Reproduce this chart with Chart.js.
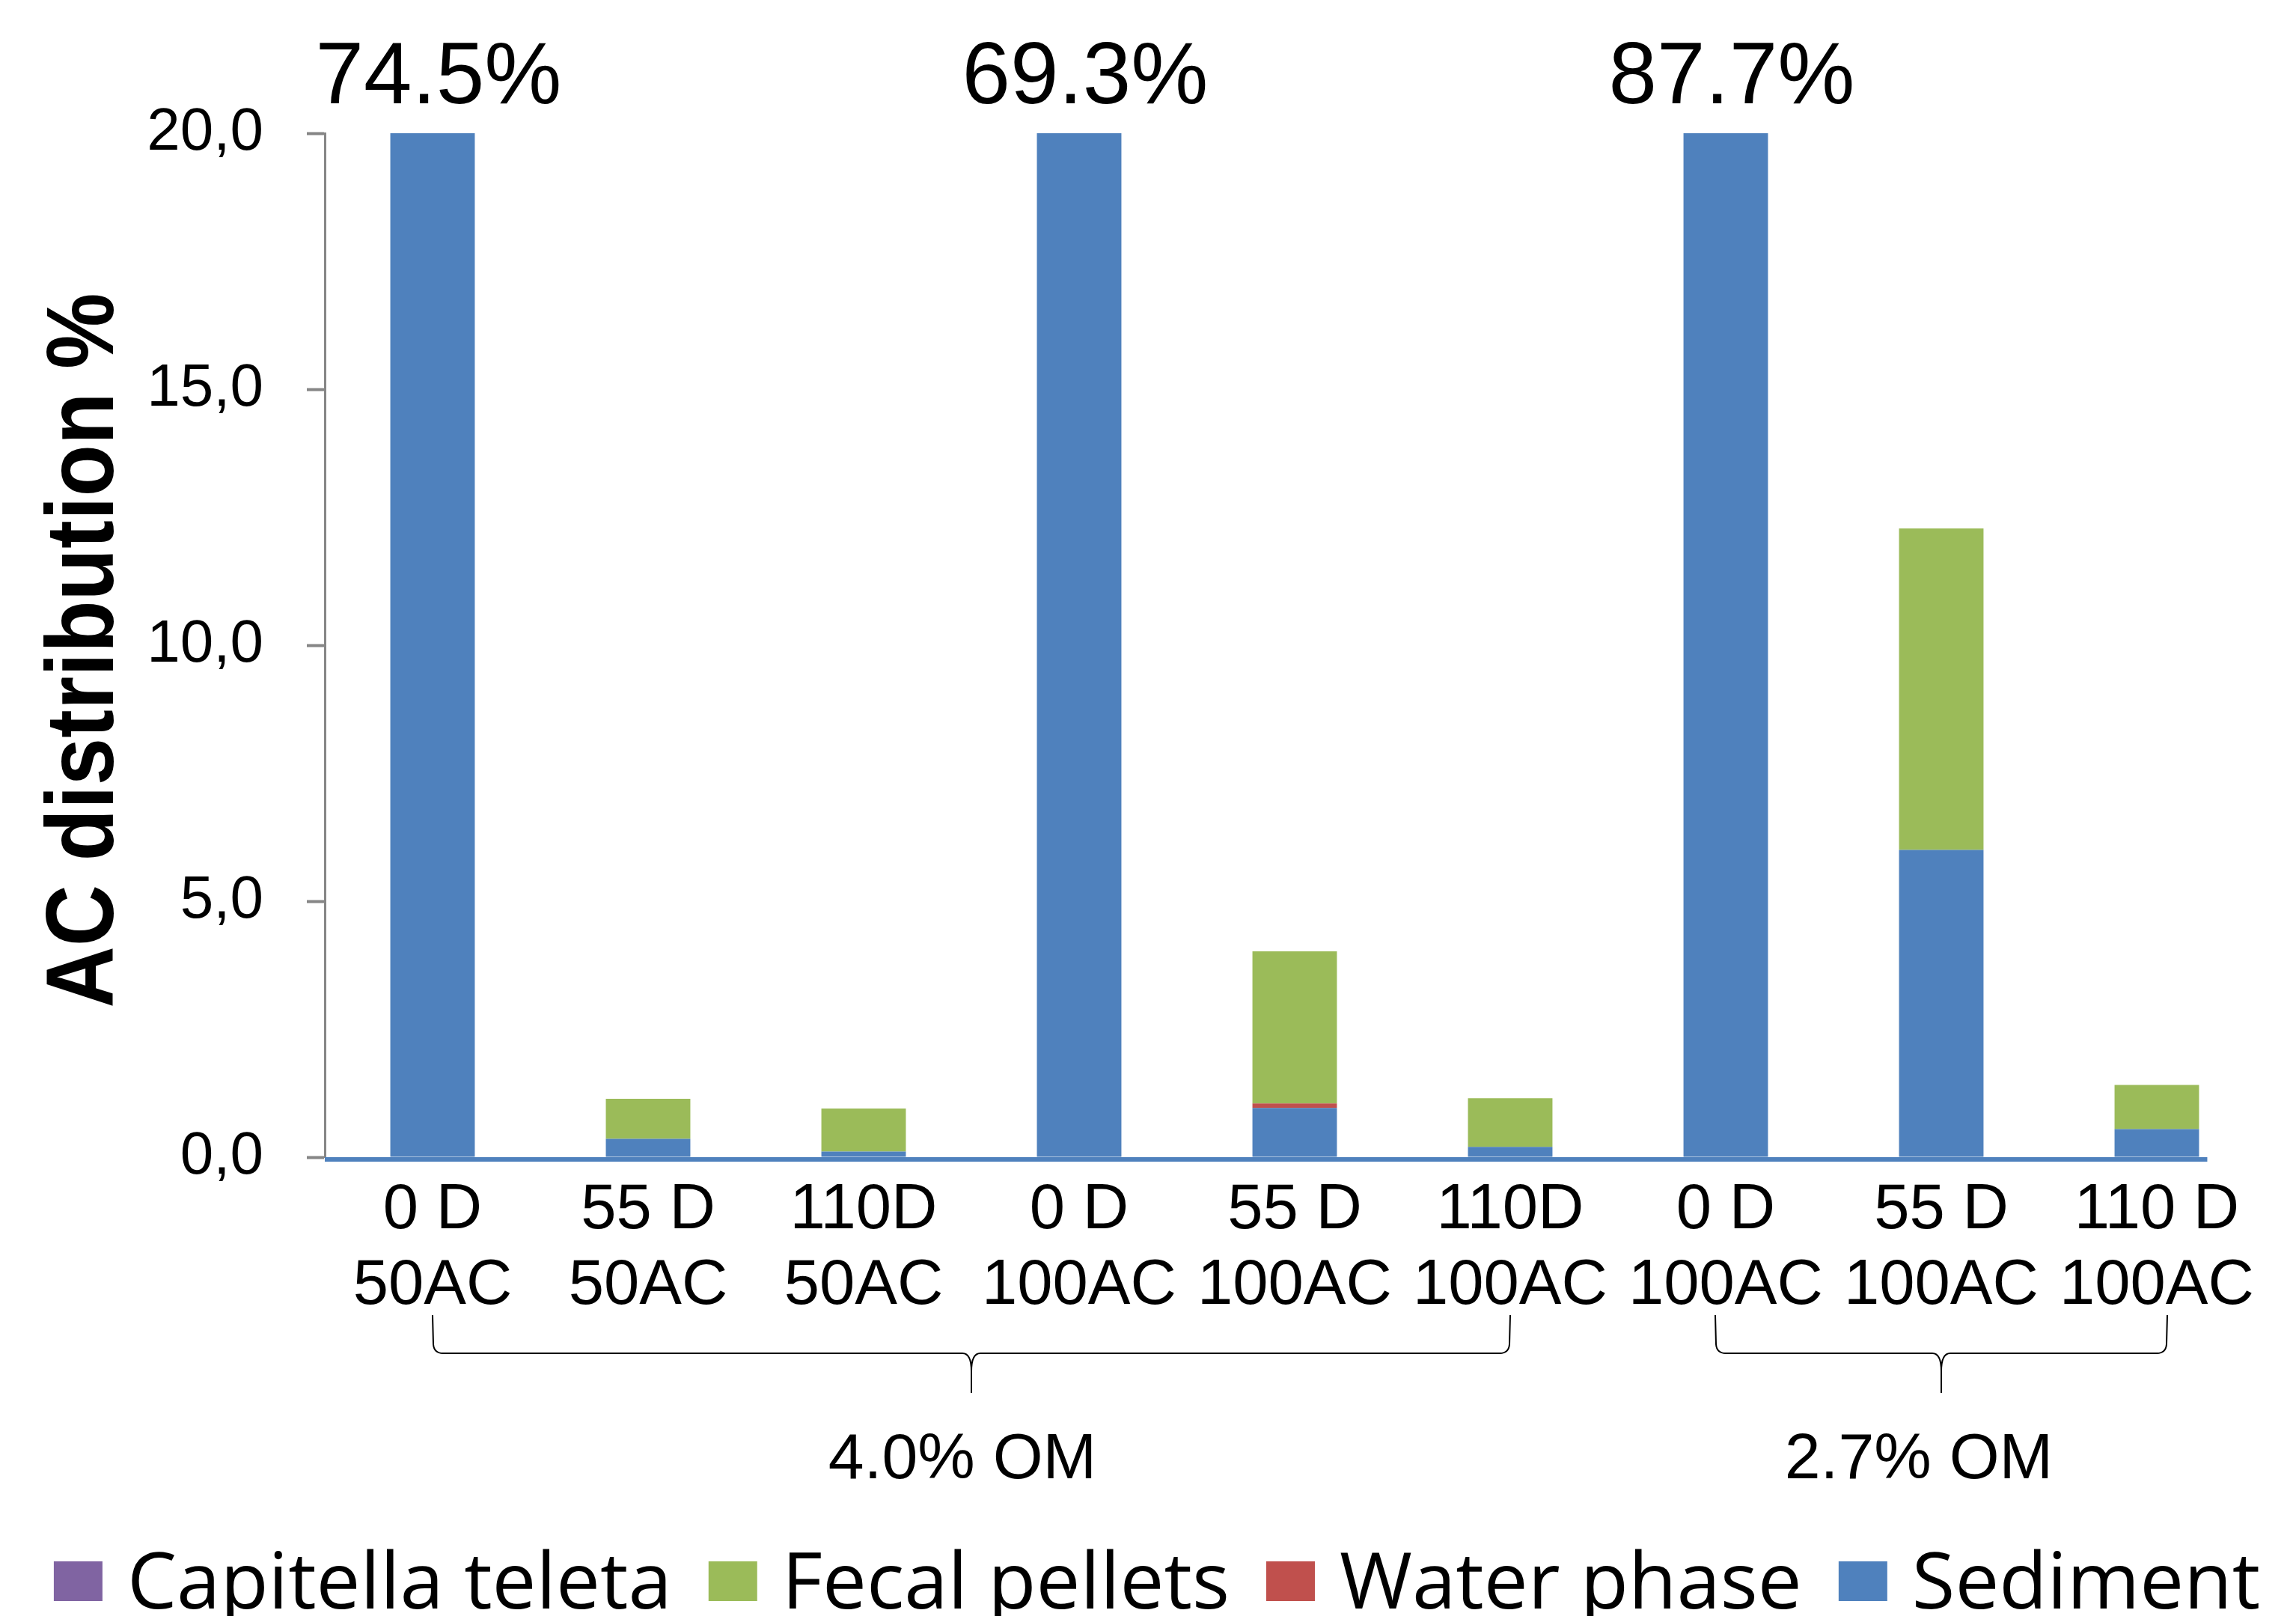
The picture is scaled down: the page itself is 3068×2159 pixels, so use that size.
<!DOCTYPE html>
<html>
<head>
<meta charset="utf-8">
<script src="https://cdn.jsdelivr.net/npm/chart.js@4.4.1/dist/chart.umd.min.js"></script>
<style>
html,body{margin:0;padding:0;background:#ffffff;}
#wrap{width:3068px;height:2159px;position:relative;overflow:hidden;}
</style>
</head>
<body>
<div id="wrap"><canvas id="c" width="3068" height="2159"></canvas></div>
<script>
// ---------- DATA ----------
const categories = [
  ["0 D", "50AC"], ["55 D", "50AC"], ["110D", "50AC"],
  ["0 D", "100AC"], ["55 D", "100AC"], ["110D", "100AC"],
  ["0 D", "100AC"], ["55 D", "100AC"], ["110 D", "100AC"]
];
const sediment    = [74.5, 0.36, 0.11, 69.3, 0.96, 0.20, 87.7, 6.00, 0.55];
const waterPhase  = [0, 0, 0, 0, 0.09, 0, 0, 0, 0];
const fecalPellets= [0, 0.78, 0.84, 0, 2.97, 0.95, 0, 6.28, 0.86];
const capitella   = [0, 0, 0, 0, 0, 0, 0, 0, 0];
const yTickValues = [0, 5, 10, 15, 20];
const groupLabels = ["4.0% OM", "2.7% OM"];
const groupStart  = [0, 6];
const groupEnd    = [5, 8];
const yTitle = "AC distribution %";

// ---------- STYLE ----------
const C_SED = "#4F81BD", C_WAT = "#C0504D", C_FEC = "#9BBB59", C_CAP = "#8064A2";
const ARIAL = "'Liberation Sans', Arial, Helvetica, sans-serif";
const LEGEND_FONT = "105px 'Open Sans', 'Noto Sans', sans-serif";
Chart.defaults.font.family = ARIAL;
Chart.defaults.color = "#000000";

const overlay = {
  id: "overlay",
  afterDraw(chart) {
    const ctx = chart.ctx;
    const a = chart.chartArea;
    const xs = chart.scales.x, ys = chart.scales.y;
    const meta = chart.getDatasetMeta(0);
    const half = meta.data[0] ? meta.data[0].width / 2 : 56;
    ctx.save();
    // blue horizontal axis line
    ctx.strokeStyle = C_SED;
    ctx.lineWidth = 6;
    ctx.beginPath();
    ctx.moveTo(a.left, a.bottom + 3);
    ctx.lineTo(xs.getPixelForValue(categories.length - 1) + half + 11, a.bottom + 3);
    ctx.stroke();

    // values above clipped bars
    ctx.fillStyle = "#000";
    ctx.font = "116px " + ARIAL;
    ctx.textAlign = "center";
    ctx.textBaseline = "alphabetic";
    sediment.forEach((v, i) => {
      if (v > ys.max) {
        ctx.fillText(v.toFixed(1) + "%", xs.getPixelForValue(i) + 8, a.top - 40);
      }
    });

    // group braces
    ctx.strokeStyle = "#000";
    ctx.lineWidth = 2;
    const yTop = a.bottom + 211, yH = a.bottom + 262, yBot = a.bottom + 315;
    const r = 12, r2 = 12;
    const ext = [0, 14];
    groupLabels.forEach((lab, g) => {
      const xl = xs.getPixelForValue(groupStart[g]) - ext[g];
      const xr = xs.getPixelForValue(groupEnd[g]) + ext[g];
      const xm = (xl + xr) / 2;
      ctx.beginPath();
      ctx.moveTo(xl, yTop);
      ctx.lineTo(xl + 1, yH - r);
      ctx.quadraticCurveTo(xl + 2, yH, xl + r + 2, yH);
      ctx.lineTo(xm - r2, yH);
      ctx.quadraticCurveTo(xm, yH, xm, yH + r2 * 2);
      ctx.lineTo(xm, yBot);
      ctx.moveTo(xm, yH + r2 * 2);
      ctx.quadraticCurveTo(xm, yH, xm + r2, yH);
      ctx.lineTo(xr - r - 2, yH);
      ctx.quadraticCurveTo(xr - 2, yH, xr - 1, yH - r);
      ctx.lineTo(xr, yTop);
      ctx.stroke();
      ctx.font = "86px " + ARIAL;
      ctx.textAlign = "center";
      ctx.fillText(lab, xm - 12 - g * 18, a.bottom + 429);
    });

    // legend (reverse dataset order, Excel style)
    const items = chart.data.datasets.slice().reverse();
    ctx.font = LEGEND_FONT;
    ctx.textAlign = "left";
    ctx.textBaseline = "alphabetic";
    const boxW = 65, boxH = 53, gapBT = 33, gapItem = 49;
    const widths = items.map(d => ctx.measureText(d.label).width);
    const total = widths.reduce((s, w) => s + w, 0) + items.length * (boxW + gapBT) + (items.length - 1) * gapItem;
    let x = (chart.width - total) / 2 + 12;
    const boxTop = 2086, baseY = 2149;
    items.forEach((d, i) => {
      ctx.fillStyle = d.backgroundColor;
      ctx.fillRect(x, boxTop, boxW, boxH);
      x += boxW + gapBT;
      ctx.fillStyle = "#000";
      ctx.fillText(d.label, x, baseY);
      x += widths[i] + gapItem;
    });

    // rotated y-axis title (condensed bold)
    ctx.font = "bold 128px " + ARIAL;
    const w = ctx.measureText(yTitle).width;
    ctx.translate(151, (a.top + a.bottom) / 2 + 7);
    ctx.rotate(-Math.PI / 2);
    ctx.scale(955 / w, 1);
    ctx.textAlign = "center";
    ctx.textBaseline = "alphabetic";
    ctx.fillText(yTitle, 0, 0);
    ctx.restore();
  }
};

new Chart(document.getElementById("c"), {
  type: "bar",
  data: {
    labels: categories,
    datasets: [
      { label: "Sediment", data: sediment, backgroundColor: C_SED },
      { label: "Water phase", data: waterPhase, backgroundColor: C_WAT },
      { label: "Fecal pellets", data: fecalPellets, backgroundColor: C_FEC },
      { label: "Capitella teleta", data: capitella, backgroundColor: C_CAP }
    ].map(d => Object.assign(d, { borderWidth: 0, clip: 0, categoryPercentage: 1.0, barPercentage: 0.392 }))
  },
  options: {
    responsive: false,
    animation: false,
    devicePixelRatio: 1,
    layout: { padding: { top: 178, right: 42, left: 0, bottom: 0 } },
    plugins: {
      tooltip: { enabled: false },
      title: { display: false },
      legend: { display: false }
    },
    scales: {
      x: {
        stacked: true,
        grid: { display: false, drawTicks: false },
        border: { display: false },
        ticks: {
          autoSkip: false, maxRotation: 0, minRotation: 0,
          padding: 21,
          color: "#000",
          font: { size: 85, lineHeight: 1.19 }
        },
        afterFit(s) { s.height = 613; }
      },
      y: {
        stacked: true,
        min: 0, max: 20,
        afterBuildTicks(s) { s.ticks = yTickValues.map(v => ({ value: v })); },
        grid: { drawOnChartArea: false, drawTicks: true, tickLength: 24, tickWidth: 4, tickColor: "#868686" },
        border: { display: true, color: "#868686", width: 3 },
        ticks: {
          padding: 58,
          color: "#000",
          font: { size: 80 },
          callback: v => v.toFixed(1).replace(".", ",")
        },
        afterFit(s) { s.width = 434; }
      }
    }
  },
  plugins: [overlay]
});
</script>
</body>
</html>
